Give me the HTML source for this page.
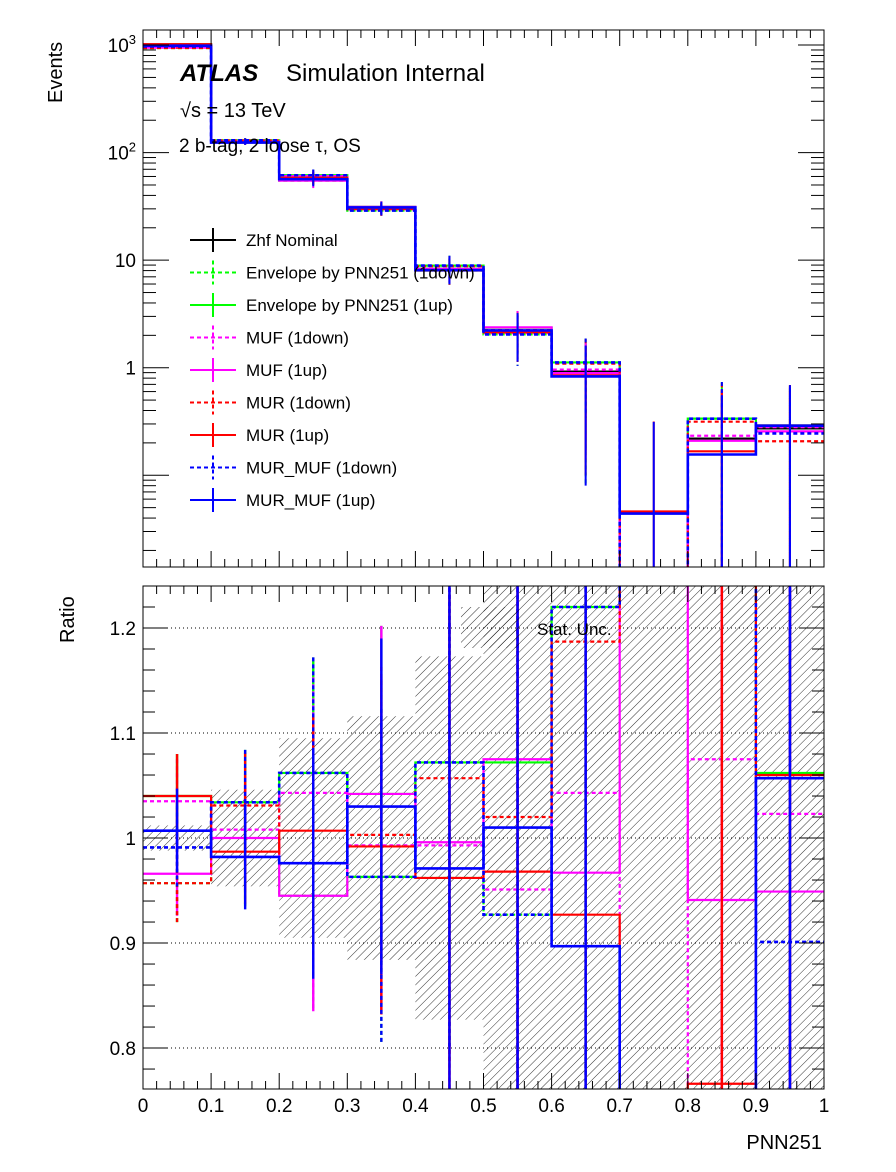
<!DOCTYPE html>
<html><head><meta charset="utf-8"><style>
html,body{margin:0;padding:0;background:#fff;}
svg{display:block;font-family:"Liberation Sans",sans-serif;}
</style></head><body>
<svg id="c" width="896" height="1172" viewBox="0 0 896 1172" xmlns="http://www.w3.org/2000/svg">
<defs>
<pattern id="hatch" width="6" height="6" patternUnits="userSpaceOnUse" patternTransform="rotate(45)">
<line x1="0" y1="0" x2="0" y2="6" stroke="#000" stroke-width="0.8"/>
</pattern>
<clipPath id="clipTop"><rect x="143" y="30" width="681" height="537"/></clipPath>
<clipPath id="clipBot"><rect x="143" y="586" width="681" height="503"/></clipPath>
</defs>
<g id="topPanel"></g>
<g id="botPanel"></g>
<text x="180" y="81" font-size="24" font-weight="bold" font-style="italic">ATLAS</text>
<text x="286" y="81" font-size="24">Simulation Internal</text>
<text x="180" y="117" font-size="20">√s = 13 TeV</text>
<text x="179" y="152" font-size="19">2 b-tag, 2 loose τ, OS</text>
<text transform="translate(62,103) rotate(-90)" font-size="20">Events</text>
<text transform="translate(74,643) rotate(-90)" font-size="20">Ratio</text>
<text x="822" y="1149" font-size="20" text-anchor="end">PNN251</text>
</svg>
<script>
const edges=[0,0.1,0.2,0.3,0.4,0.5,0.6,0.7,0.8,0.9,1.0];
const nominal=[980,126,58,30,8.3,2.2,0.92,0,0.219,0.273];
const envUp=[1019,130,61.6,31.3,8.9,2.36,1.12,0,0.336,0.29];
const envDown=[938,124,54.8,28.9,8.0,2.04,0.83,0,0,0];
const mufUp=[947,126,54.8,31.3,8.27,2.37,0.89,0,0.209,0.256];
const mufDown=[1014,127,60.5,29.8,8.24,2.09,0.96,0,0.233,0.28];
const murUp=[1019,124,58.4,29.8,8.0,2.13,0.85,0.046,0.167,0.29];
const murDown=[938,130,56.6,30.1,8.8,2.24,1.09,0,0.315,0.207];
const mmUp=[987,124,56.6,30.9,8.06,2.22,0.83,0.044,0.156,0.289];
const mmDown=[971,130,61.6,28.9,8.9,2.04,1.12,0,0.336,0.245];
const topErr=[12,6,8,4,2.1,1.0,0.75,0.27,0.4,0.4];
const rEnvUp=[1.040,1.034,1.062,1.042,1.072,1.072,1.220,2,2,1.062];
const rEnvDown=[0.957,0.982,0.945,0.963,0.962,0.927,0.897,0,0,0];
const rMufUp=[0.966,1.000,0.945,1.042,0.996,1.075,0.967,2,0.941,0.949];
const rMufDown=[1.035,1.008,1.043,0.993,0.993,0.951,1.043,0,1.075,1.023];
const rMurUp=[1.040,0.987,1.007,0.992,0.962,0.968,0.927,0,0.766,1.060];
const rMurDown=[0.957,1.031,0.976,1.003,1.057,1.020,1.187,2,2,0.758];
const rMmUp=[1.007,0.982,0.976,1.030,0.971,1.010,0.897,0,0,1.057];
const rMmDown=[0.991,1.034,1.062,0.963,1.072,0.927,1.220,2,2,0.901];
const ratioErr=[0.04,0.05,0.11,0.16,0.27,1,1,1,1,1];
const statLo=[0.988,0.954,0.905,0.884,0.827,0,0,0,0,0];
const statHi=[1.012,1.046,1.095,1.116,1.173,2,2,2,2,2];
const yTickVals=[1,10,100,1000];
const yTickLabels=["1","10","10^2","10^3"];
const rTickVals=[0.8,0.9,1.0,1.1,1.2];
const rTickLabels=["0.8","0.9","1","1.1","1.2"];
const xTickLabels=["0","0.1","0.2","0.3","0.4","0.5","0.6","0.7","0.8","0.9","1"];

const NS="http://www.w3.org/2000/svg";
const X0=143,X1=824,TT=30,TB=567,BT=586,BB=1089;
const LOGMIN=Math.log10(0.01403),LOGMAX=3.14;
function xs(v){return X0+(v-edges[0])/(edges[edges.length-1]-edges[0])*(X1-X0);}
function yl(v){if(v<=0)return TB+5;const l=Math.log10(v);return TB-(l-LOGMIN)/(LOGMAX-LOGMIN)*(TB-TT);}
const RMIN=0.761,RMAX=1.24;
function yr(v){let y=BB-(v-RMIN)/(RMAX-RMIN)*(BB-BT);return Math.max(BT-5,Math.min(BB+5,y));}
function el(tag,attrs,parent){const e=document.createElementNS(NS,tag);for(const k in attrs)e.setAttribute(k,attrs[k]);parent.appendChild(e);return e;}
const topG=document.getElementById('topPanel'),botG=document.getElementById('botPanel');

const series=[
 {name:'zhf-nominal',t:nominal,r:null,c:'#000',d:false,lab:'Zhf Nominal'},
 {name:'envelope-down',t:envDown,r:rEnvDown,c:'#00ff00',d:true,lab:'Envelope by PNN251 (1down)'},
 {name:'envelope-up',t:envUp,r:rEnvUp,c:'#00ff00',d:false,lab:'Envelope by PNN251 (1up)'},
 {name:'muf-down',t:mufDown,r:rMufDown,c:'#ff00ff',d:true,lab:'MUF (1down)'},
 {name:'muf-up',t:mufUp,r:rMufUp,c:'#ff00ff',d:false,lab:'MUF (1up)'},
 {name:'mur-down',t:murDown,r:rMurDown,c:'#ff0000',d:true,lab:'MUR (1down)'},
 {name:'mur-up',t:murUp,r:rMurUp,c:'#ff0000',d:false,lab:'MUR (1up)'},
 {name:'mur-muf-down',t:mmDown,r:rMmDown,c:'#0000ff',d:true,lab:'MUR_MUF (1down)'},
 {name:'mur-muf-up',t:mmUp,r:rMmUp,c:'#0000ff',d:false,lab:'MUR_MUF (1up)'}
];

const grid=el('g',{},botG);


rTickVals.forEach(v=>{el('line',{x1:X0,x2:X1,y1:yr(v),y2:yr(v),stroke:'#000','stroke-width':1,'stroke-dasharray':'1 3'},grid);});

const band=el('g',{'clip-path':'url(#clipBot)'},botG);


for(let i=0;i<statLo.length;i++){
 const y1=yr(statHi[i]),y2=yr(statLo[i]);
 const r=el('rect',{x:xs(edges[i]),y:y1,width:xs(edges[i+1])-xs(edges[i]),height:y2-y1,fill:'url(#hatch)'},band);
 
 
}

function stepPath(vals,yf){
 let d='';
 for(let i=0;i<vals.length;i++){
  const xa=xs(edges[i]),xb=xs(edges[i+1]),y=yf(vals[i]);
  d+=(i===0?'M':'L')+xa+','+y+' L'+xb+','+y+' ';
 }
 return d;
}
series.forEach(s=>{
 const w=s.c==='#0000ff'?2.6:2.2;
 const dash=s.d?'4 3':'none';
 const g=el('g',{'clip-path':'url(#clipTop)'},topG);
 
 
 el('path',{d:stepPath(s.t,yl),fill:'none',stroke:s.c,'stroke-width':w,'stroke-dasharray':dash},g);
 for(let i=0;i<s.t.length;i++){
  const v=s.t[i];const cx=(xs(edges[i])+xs(edges[i+1]))/2;
  if(v<=0)continue;
  const e=el('line',{x1:cx,x2:cx,y1:yl(v+topErr[i]),y2:yl(Math.max(v-topErr[i],0)),stroke:s.c,'stroke-width':2,'stroke-dasharray':dash},g);
  
  
 }
 if(s.r){
  const gb=el('g',{'clip-path':'url(#clipBot)'},botG);
  
  
  el('path',{d:stepPath(s.r,yr),fill:'none',stroke:s.c,'stroke-width':w,'stroke-dasharray':dash},gb);
  for(let i=0;i<s.r.length;i++){
   const v=s.r[i];if(v<RMIN||v>RMAX)continue;
   const cx=(xs(edges[i])+xs(edges[i+1]))/2;
   const e=el('line',{x1:cx,x2:cx,y1:yr(v+ratioErr[i]),y2:yr(v-ratioErr[i]),stroke:s.c,'stroke-width':2.4,'stroke-dasharray':dash},gb);
   
   
  }
 }
});

el('rect',{x:X0,y:TT,width:X1-X0,height:TB-TT,fill:'none',stroke:'#000','stroke-width':1},topG);
el('rect',{x:X0,y:BT,width:X1-X0,height:BB-BT,fill:'none',stroke:'#000','stroke-width':1},botG);

function xticks(parent,yb,yt,lab){
 for(let k=0;k<=50;k++){
  const v=k/50,x=xs(v),major=k%5===0,L=major?16:8;
  el('line',{x1:x,x2:x,y1:yb,y2:yb-L,stroke:'#000','stroke-width':1},parent);
  el('line',{x1:x,x2:x,y1:yt,y2:yt+L,stroke:'#000','stroke-width':1},parent);
 }
 if(lab){xTickLabels.forEach((t,i)=>{const e=el('text',{x:xs(edges[i]),y:1112,'font-size':19,'text-anchor':'middle'},parent);e.textContent=t;
  
  });}
}
xticks(topG,TB,TT,false);xticks(botG,BB,BT,true);

for(let dcd=-2;dcd<=3;dcd++){
 for(let m=1;m<=9;m++){
  const v=m*Math.pow(10,dcd);const y=yl(v);
  if(y<TT||y>TB)continue;
  const L=m===1?26:13;
  el('line',{x1:X0,x2:X0+L,y1:y,y2:y,stroke:'#000','stroke-width':1},topG);
  el('line',{x1:X1,x2:X1-L,y1:y,y2:y,stroke:'#000','stroke-width':1},topG);
 }
}
yTickVals.forEach((v,i)=>{
 const t=yTickLabels[i];
 const e=el('text',{x:136,y:yl(v)+7,'font-size':19,'text-anchor':'end'},topG);
 
 
 if(t.indexOf('^')>=0){const p=t.split('^');e.textContent=p[0];const sp=el('tspan',{dy:-8,'font-size':13},e);sp.textContent=p[1];}
 else e.textContent=t;
});
for(let k=38;k<=62;k++){
 const v=k/50,y=yr(v);if(y<BT||y>BB)continue;
 const major=k%5===0,L=major?25:12;
 el('line',{x1:X0,x2:X0+L,y1:y,y2:y,stroke:'#000','stroke-width':1},botG);
 el('line',{x1:X1,x2:X1-L,y1:y,y2:y,stroke:'#000','stroke-width':1},botG);
}
rTickVals.forEach((v,i)=>{const e=el('text',{x:136,y:yr(v)+7,'font-size':19,'text-anchor':'end'},botG);e.textContent=rTickLabels[i];
 
 });

const leg=el('g',{},topG);


series.forEach((s,i)=>{
 const y=240+i*32.5;
 const g=el('g',{},leg);
 
 
 const dash=s.d?'4 3':'none';
 el('line',{x1:190,x2:236,y1:y,y2:y,stroke:s.c,'stroke-width':2,'stroke-dasharray':dash},g);
 el('line',{x1:213,x2:213,y1:y-12,y2:y+12,stroke:s.c,'stroke-width':2,'stroke-dasharray':dash},g);
 const t=el('text',{x:246,y:y+6,'font-size':17},g);t.textContent=s.lab;
});
const sl=el('g',{},botG);


el('rect',{x:461,y:607,width:58,height:41,fill:'url(#hatch)'},sl);
const st=el('text',{x:537,y:635,'font-size':17},sl);st.textContent='Stat. Unc.';
</script>
</body></html>
